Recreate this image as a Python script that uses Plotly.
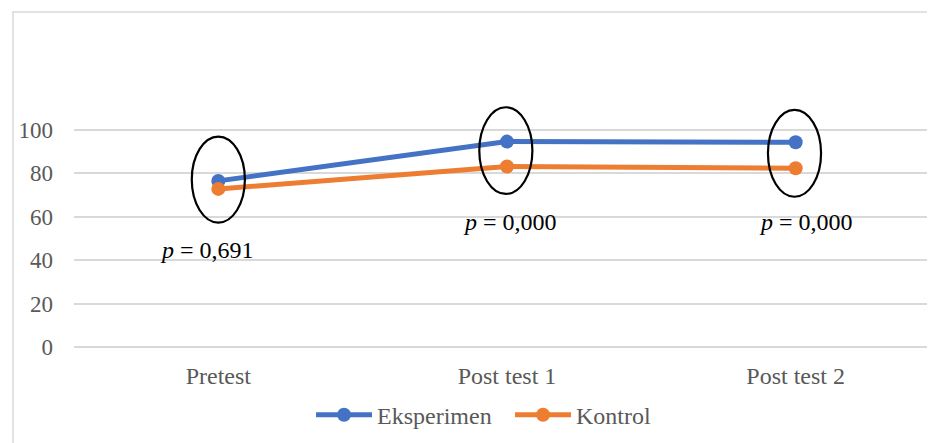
import plotly.graph_objects as go

categories = ["Pretest", "Post test 1", "Post test 2"]
eksperimen = [76.5, 94.6, 94.3]
kontrol = [72.8, 83.1, 82.3]
y_ticks = [0, 20, 40, 60, 80, 100]
p_labels = ["0,691", "0,000", "0,000"]

# annotation placement (data units)
p_label_y = [44.7, 57.7, 57.7]
p_label_dx = [-0.038, 0.01, 0.035]
ellipse_y = [(57.3, 96.9), (70.5, 110.4), (69.2, 109.2)]
ellipse_dx = [0.0, -0.004, -0.004]

BLUE = "#4472C4"
ORANGE = "#ED7D31"
GRAY = "#595959"
GRID = "#D9D9D9"
SERIF = "Liberation Serif"

fig = go.Figure()
fig.add_trace(go.Scatter(x=categories, y=eksperimen, name="Eksperimen",
                         mode="lines+markers",
                         line=dict(color=BLUE, width=5),
                         marker=dict(color=BLUE, size=14)))
fig.add_trace(go.Scatter(x=categories, y=kontrol, name="Kontrol",
                         mode="lines+markers",
                         line=dict(color=ORANGE, width=5),
                         marker=dict(color=ORANGE, size=14)))

shapes = []
for i, (y0, y1) in enumerate(ellipse_y):
    cx = i + ellipse_dx[i]
    shapes.append(dict(type="circle", xref="x", yref="y",
                       x0=cx - 0.092, x1=cx + 0.092, y0=y0, y1=y1,
                       line=dict(color="black", width=2.2)))
# chart border
shapes.append(dict(type="rect", xref="paper", yref="paper",
                   x0=-0.0704, x1=1.2, y0=-0.5, y1=1.102,
                   line=dict(color=GRID, width=1.5), layer="below"))

annotations = []
for i, txt in enumerate(p_labels):
    annotations.append(dict(x=i + p_label_dx[i], y=p_label_y[i], xref="x", yref="y",
                            text="<i>p</i> = " + txt, showarrow=False,
                            font=dict(family=SERIF, size=24, color="black")))

fig.update_layout(
    width=935, height=443,
    margin=dict(l=66, r=3, t=35, b=104, autoexpand=False),
    paper_bgcolor="white", plot_bgcolor="white",
    font=dict(family=SERIF, color=GRAY),
    shapes=shapes, annotations=annotations,
    showlegend=True,
    legend=dict(orientation="h", x=0.5035, xanchor="center", y=-0.224, yanchor="middle",
                font=dict(family=SERIF, size=24, color=GRAY), itemwidth=56,
                entrywidth=128, entrywidthmode="pixels",
                bgcolor="rgba(0,0,0,0)"),
    xaxis=dict(type="category", range=[-0.5, 2.5], showgrid=False, showline=False,
               ticks="", tickfont=dict(family=SERIF, size=24, color=GRAY),
               ticklabelstandoff=12, fixedrange=True, automargin=False),
    yaxis=dict(range=[0, 140], tickvals=y_ticks, showgrid=True, gridcolor=GRID, gridwidth=1.5,
               zeroline=True, zerolinecolor=GRID, zerolinewidth=1.5,
               showline=False, ticks="", tickfont=dict(family=SERIF, size=23, color=GRAY),
               ticklabelstandoff=20, fixedrange=True, automargin=False),
)

fig.write_html("out.html")
